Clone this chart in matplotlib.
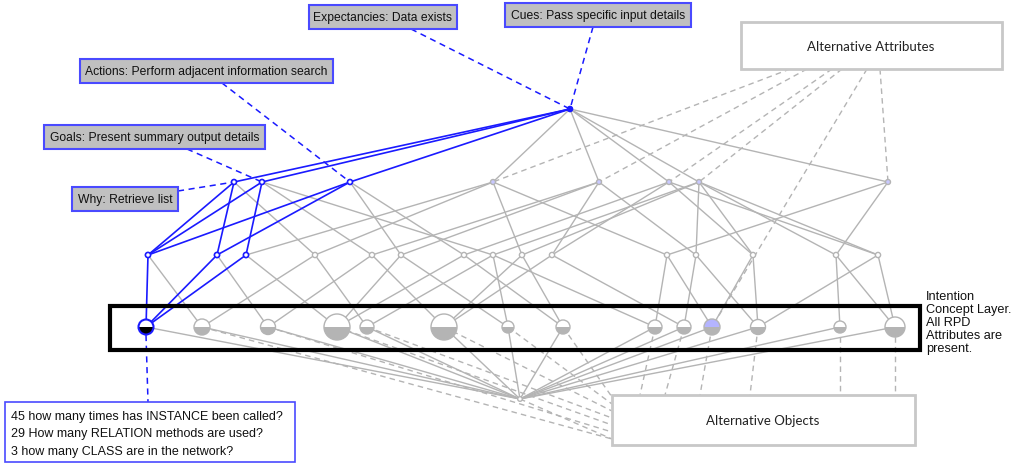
import matplotlib
matplotlib.use('Agg')
import matplotlib.pyplot as plt
from matplotlib.patches import Rectangle, Wedge, Circle
import numpy as np

# node positions of the concept lattice (pixel space of the original diagram)
top_node = (570, 110)
bottom_node = (520, 400)
level2_x = [234, 262, 350, 493, 599, 669, 699, 888]
level2_y = 183
level3_x = [148, 217, 246, 315, 372, 401, 464, 493, 522, 552, 667, 696, 753, 836, 878]
level3_y = 256
circle_x = [146, 202, 268, 337, 367, 444, 508, 563, 655, 684, 712, 758, 840, 895]
circle_r = [7.5, 8, 7.5, 13, 7, 13, 6, 7, 7, 7, 8, 7.5, 6, 10]
circle_y = 328

# edges (indices)
edges_23 = [(0, 0), (1, 0), (0, 1), (2, 1), (0, 2), (1, 2), (2, 3), (3, 0), (3, 3),
            (4, 1), (4, 4), (5, 2), (5, 4), (6, 2), (6, 5), (7, 1), (7, 6),
            (8, 3), (8, 6), (9, 4), (9, 5), (10, 3), (10, 7), (11, 4), (11, 6),
            (12, 5), (12, 6), (13, 6), (13, 7), (14, 5), (14, 6)]
blue_23 = [(0, 0), (1, 0), (0, 1), (2, 1), (0, 2), (1, 2)]
edges_34 = [(0, 0), (1, 0), (2, 0), (0, 1), (3, 1), (1, 2), (4, 2), (2, 3), (5, 3), (6, 3),
            (3, 4), (7, 4), (4, 5), (8, 5), (9, 5), (5, 6), (7, 6), (6, 7), (8, 7),
            (7, 8), (10, 8), (9, 9), (11, 9), (10, 10), (12, 10), (11, 11), (12, 11), (14, 11),
            (13, 12), (14, 13), (13, 13)]
blue_34 = [(0, 0), (1, 0), (2, 0)]
blue_top = [0, 1, 2]

# dashed links from the "Alternative Attributes" box
attr_links_x = [790, 807, 832, 842, 867, 880]
attr_targets = [('L2', 3), ('L2', 4), ('L2', 5), ('L2', 6), ('C', 10), ('L2', 7)]

# RPD labels: text, box (x0, y0, x1, y1), anchor and target node
labels = ['Expectancies: Data exists', 'Cues: Pass specific input details',
          'Actions: Perform adjacent information search',
          'Goals: Present summary output details', 'Why: Retrieve list']
label_boxes = [(309, 6, 457, 30), (505, 4, 691, 28), (80, 60, 333, 84),
               (44, 126, 265, 150), (72, 188, 178, 212)]
label_anchor = [(411, 30), (593, 28), (222, 84), (187, 150), (178, 192)]
label_target = [('T', 0), ('T', 0), ('L2', 2), ('L2', 1), ('L2', 0)]

question_lines = ['45 how many times has INSTANCE been called?',
                  '29 How many RELATION methods are used?',
                  '3 how many CLASS are in the network?']

GRAY = '#b4b4b4'
BLUE = '#1a1aff'
LABEL_BLUE = '#4a4aff'

fig = plt.figure(figsize=(10.19, 4.64), dpi=100)
ax = fig.add_axes([0, 0, 1, 1])
ax.set_xlim(0, 1019)
ax.set_ylim(464, 0)
ax.axis('off')


def pos(kind, i):
    if kind == 'T':
        return top_node
    if kind == 'L2':
        return (level2_x[i], level2_y)
    if kind == 'L3':
        return (level3_x[i], level3_y)
    return (circle_x[i], circle_y)


def seg(p, q, **kw):
    ax.plot([p[0], q[0]], [p[1], q[1]], **kw)


# top to level 2
for i in range(len(level2_x)):
    blue = i in blue_top
    seg(top_node, pos('L2', i), color=BLUE if blue else GRAY,
        lw=1.2 if blue else 1.0, zorder=3 if blue else 1)

for a, b in edges_23:
    blue = (a, b) in blue_23
    seg(pos('L3', a), pos('L2', b), color=BLUE if blue else GRAY,
        lw=1.2 if blue else 1.0, zorder=3 if blue else 1)

for a, b in edges_34:
    blue = (a, b) in blue_34
    seg(pos('L3', a), pos('C', b), color=BLUE if blue else GRAY,
        lw=1.2 if blue else 1.0, zorder=3 if blue else 1)

# circles to the bottom node
for i in range(len(circle_x)):
    seg(pos('C', i), bottom_node, color=GRAY, lw=1.0, zorder=1)

# dashed links to "Alternative Objects" box
ao_box = (612, 396, 915, 446)
left_ids = [1, 2, 3, 4, 5, 6, 7]
left_y = np.linspace(440, 398, len(left_ids))
for i, y in zip(left_ids, left_y):
    seg(pos('C', i), (ao_box[0], y), color=GRAY, lw=1.0, ls=(0, (4, 3)), zorder=1)
seg(bottom_node, (ao_box[0], 440), color=GRAY, lw=1.0, ls=(0, (4, 3)), zorder=1)
right_ids = [8, 9, 10, 11, 12, 13]
right_x = [640, 665, 700, 750, 840, 895]
for i, x in zip(right_ids, right_x):
    seg(pos('C', i), (x, ao_box[1]), color=GRAY, lw=1.0, ls=(0, (4, 3)), zorder=1)

# dashed links from "Alternative Attributes" box
for x, (k, i) in zip(attr_links_x, attr_targets):
    seg((x, 70), pos(k, i), color=GRAY, lw=1.0, ls=(0, (4, 3)), zorder=1)

# label boxes and dashed blue connectors
for txt, (x0, y0, x1, y1), anc, (k, i) in zip(labels, label_boxes, label_anchor, label_target):
    ax.add_patch(Rectangle((x0, y0), x1 - x0, y1 - y0, fc='#c0c0c0', ec=LABEL_BLUE,
                           lw=1.5, zorder=5))
    ax.text((x0 + x1) / 2, (y0 + y1) / 2 + 0.5, txt, ha='center', va='center',
            fontsize=8.7, family='Liberation Sans', color='#111111', zorder=6)
    seg(anc, pos(k, i), color=BLUE, lw=1.1, ls=(0, (4, 3)), zorder=3)

# small nodes
ax.add_patch(Circle(top_node, 2.6, fc=BLUE, ec=BLUE, lw=1, zorder=7))
for i, x in enumerate(level2_x):
    if i < 3:
        ax.add_patch(Circle((x, level2_y), 2.5, fc='white', ec=BLUE, lw=1.2, zorder=7))
    else:
        ax.add_patch(Circle((x, level2_y), 2.5, fc='#c8c8ff', ec=GRAY, lw=1, zorder=7))
for i, x in enumerate(level3_x):
    if i < 3:
        ax.add_patch(Circle((x, level3_y), 2.6, fc='white', ec=BLUE, lw=1.2, zorder=7))
    else:
        ax.add_patch(Circle((x, level3_y), 2.6, fc='white', ec=GRAY, lw=1, zorder=7))
ax.add_patch(Circle(bottom_node, 2.3, fc='white', ec=GRAY, lw=1, zorder=7))

# half-filled concept circles
for i, (x, r) in enumerate(zip(circle_x, circle_r)):
    top_c = 'white'
    bot_c = GRAY
    edge = GRAY
    if i == 0:
        bot_c = 'black'
        edge = BLUE
    elif i == 10:
        top_c = '#b4b4ff'
    ax.add_patch(Wedge((x, circle_y), r, 180, 360, fc=top_c, ec='none', zorder=8))
    ax.add_patch(Wedge((x, circle_y), r, 0, 180, fc=bot_c, ec='none', zorder=8))
    ax.add_patch(Circle((x, circle_y), r, fc='none', ec=edge,
                        lw=1.5 if i == 0 else 1.0, zorder=9))

# blue dashed connector to questions
seg((146, circle_y + 8), (148, 403), color=BLUE, lw=1.1, ls=(0, (4, 3)), zorder=3)
ax.add_patch(Rectangle((5, 403), 290, 60, fc='white', ec=LABEL_BLUE, lw=1.2, zorder=5))
for j, line in enumerate(question_lines):
    ax.text(11, 417 + j * 17.5, line, ha='left', va='center', fontsize=9,
            family='Liberation Sans', color='#111111', zorder=6)

# intention concept layer frame
ax.add_patch(Rectangle((110, 307), 810, 44, fc='none', ec='black', lw=3, zorder=10))
ax.text(926, 291, 'Intention\nConcept Layer.\nAll RPD\nAttributes are\npresent.',
        ha='left', va='top', fontsize=9.2, family='Liberation Sans',
        linespacing=1.12, color='#111111')

# alternative boxes
ax.add_patch(Rectangle((741, 23), 261, 47, fc='white', ec='#c8c8c8', lw=2, zorder=5))
ax.text(871, 47, 'Alternative Attributes', ha='center', va='center', fontsize=9.5,
        family='Lato', color='#222222', zorder=6)
ax.add_patch(Rectangle(ao_box[:2], ao_box[2] - ao_box[0], ao_box[3] - ao_box[1],
                       fc='white', ec='#c8c8c8', lw=2, zorder=5))
ax.text(763, 421, 'Alternative Objects', ha='center', va='center', fontsize=9.5,
        family='Lato', color='#222222', zorder=6)

fig.savefig('out.png', dpi=100)
